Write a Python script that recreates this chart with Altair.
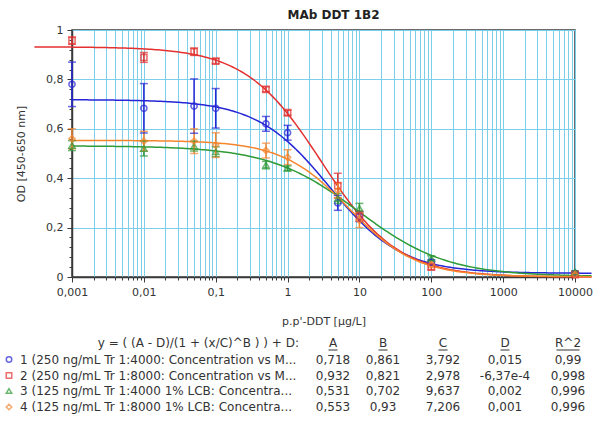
import altair as alt
import numpy as np
import pandas as pd

FONT = "DejaVu Sans"
TEXT = "#333333"
GRID = "#7ccfea"

# p,p'-DDT concentrations (µg/L)
conc = [0.001, 0.01, 0.05, 0.1, 0.5, 1, 5, 10, 100, 10000]

series_names = [
    "1 (250 ng/mL Tr 1:4000: Concentration vs M...",
    "2 (250 ng/mL Tr 1:8000: Concentration vs M...",
    "3 (125 ng/mL Tr 1:4000 1% LCB: Concentra...",
    "4 (125 ng/mL Tr 1:8000 1% LCB: Concentra...",
]
colors = ["#2626d6", "#e4312f", "#2f9a36", "#f7852d"]
shapes = ["circle", "square", "triangle-up", "diamond"]

# mean OD per concentration
od_1 = [0.78, 0.683, 0.692, 0.683, 0.62, 0.584, 0.30, 0.245, 0.06, 0.015]
od_2 = [0.957, 0.889, 0.912, 0.874, 0.76, 0.665, 0.37, 0.245, 0.04, 0.01]
od_3 = [0.532, 0.52, 0.53, 0.507, 0.453, 0.44, 0.318, 0.278, 0.076, 0.02]
od_4 = [0.56, 0.55, 0.55, 0.534, 0.512, 0.485, 0.35, 0.23, 0.05, 0.01]

# error bar half-widths
err_1 = [0.09, 0.10, 0.11, 0.08, 0.03, 0.03, 0.03, 0.02, 0.01, 0.005]
err_2 = [0.015, 0.02, 0.015, 0.01, 0.01, 0.01, 0.05, 0.02, 0.01, 0.005]
err_3 = [0.02, 0.03, 0.02, 0.02, 0.015, 0.01, 0.02, 0.02, 0.01, 0.005]
err_4 = [0.04, 0.04, 0.05, 0.05, 0.03, 0.03, 0.03, 0.03, 0.01, 0.005]

# 4-parameter logistic fits: y = ((A - D) / (1 + (x/C)^B)) + D
fit_A = [0.718, 0.932, 0.531, 0.553]
fit_B = [0.861, 0.821, 0.702, 0.93]
fit_C = [3.792, 2.978, 9.637, 7.206]
fit_D = [0.015, -6.37e-4, 0.002, 0.001]
fit_R2 = [0.99, 0.998, 0.996, 0.996]
curve_start = [0.001, 0.0003, 0.001, 0.001]
curve_end = 17000

x_ticks = [m * 10.0 ** k for k in range(-3, 4) for m in range(1, 10)] + [10000]
y_ticks = [round(i * 0.04, 2) for i in range(26)]

od_all = [od_1, od_2, od_3, od_4]
err_all = [err_1, err_2, err_3, err_4]

# ---- long-form tables for the library ----
pts = pd.DataFrame(
    [
        {"x": c, "y": v, "lo": v - e, "hi": v + e, "s": series_names[i]}
        for i in range(4)
        for c, v, e in zip(conc, od_all[i], err_all[i])
    ]
)

curve_rows = []
for i in range(4):
    xs = np.logspace(np.log10(curve_start[i]), np.log10(curve_end), 240)
    ys = (fit_A[i] - fit_D[i]) / (1 + (xs / fit_C[i]) ** fit_B[i]) + fit_D[i]
    for xv, yv in zip(xs, ys):
        curve_rows.append({"x": xv, "y": yv, "s": series_names[i]})
curves = pd.DataFrame(curve_rows)

major_x = "abs(log(datum.value)/LN10 - round(log(datum.value)/LN10)) < 1e-6"
major_y = "abs(datum.value*5 - round(datum.value*5)) < 1e-6"

xscale = alt.Scale(type="log", domain=[0.001, 10000], nice=False)
yscale = alt.Scale(domain=[0, 1], nice=False, zero=False)
cscale = alt.Scale(domain=series_names, range=colors)
sscale = alt.Scale(domain=series_names, range=shapes)

x_axis = alt.Axis(
    values=x_ticks,
    labelExpr=f"({major_x}) ? replace(format(datum.value, '~g'), '.', ',') : ''",
    title="p.p'-DDT [µg/L]",
    grid=True,
    gridColor=GRID,
    gridWidth=1,
    tickSize={"condition": {"test": major_x, "value": 5}, "value": 3},
    labelOverlap=False,
    labelFlush=False,
    labelPadding=4,
    titlePadding=18,
)
y_axis = alt.Axis(
    values=y_ticks,
    labelExpr=f"({major_y}) ? replace(format(datum.value, '~g'), '.', ',') : ''",
    title="OD [450-650 nm]",
    grid=True,
    gridColor=GRID,
    gridWidth=1,
    gridOpacity={"condition": {"test": major_y, "value": 1}, "value": 0},
    tickSize={"condition": {"test": major_y, "value": 5}, "value": 3},
    labelOverlap=False,
    labelPadding=4,
    titlePadding=19,
)


def X(field):
    return alt.X(f"{field}:Q", scale=xscale, axis=x_axis)


def Y(field):
    return alt.Y(f"{field}:Q", scale=yscale, axis=y_axis)


color_enc = alt.Color("s:N", scale=cscale, legend=None)

curve_layer = (
    alt.Chart(curves)
    .mark_line(strokeWidth=1.5)
    .encode(x=X("x"), y=Y("y"), color=color_enc, detail="s:N", order="x:Q")
)

err_rule = (
    alt.Chart(pts)
    .mark_rule(strokeWidth=1.5)
    .encode(x=X("x"), y=Y("lo"), y2="hi:Q", color=color_enc)
)
cap_lo = (
    alt.Chart(pts)
    .mark_tick(orient="horizontal", size=8, thickness=1.5)
    .encode(x=X("x"), y=Y("lo"), color=color_enc)
)
cap_hi = (
    alt.Chart(pts)
    .mark_tick(orient="horizontal", size=8, thickness=1.5)
    .encode(x=X("x"), y=Y("hi"), color=color_enc)
)

point_layer = (
    alt.Chart(pts)
    .mark_point(filled=False, size=38, strokeWidth=1.6)
    .encode(
        x=X("x"),
        y=Y("y"),
        color=color_enc,
        shape=alt.Shape("s:N", scale=sscale, legend=None),
    )
)

# ---- fit parameter table below the plot ----
def fmt(v):
    if v != 0 and abs(v) < 0.001:
        mant, ex = f"{v:.2e}".split("e")
        return f"{mant}e{int(ex)}".replace(".", ",")
    return f"{v:g}".replace(".", ",")

one = pd.DataFrame({"k": [0]})
table_layers = []
header_y = 313
row_y = [329.5, 345.5, 361, 377]
col_x = [261, 311, 371, 433, 496]
col_head = ["A", "B", "C", "D", "R^2"]
col_width = [9, 9, 9, 9, 23]


def text_at(x, y, s, align="center"):
    return (
        alt.Chart(one)
        .mark_text(align=align, baseline="middle", font=FONT, fontSize=12, color=TEXT)
        .encode(x=alt.value(x), y=alt.value(y), text=alt.value(s))
    )


table_layers.append(text_at(227, header_y, "y = ( (A - D)/(1 + (x/C)^B ) ) + D:", "right"))
for cx, h, w in zip(col_x, col_head, col_width):
    table_layers.append(text_at(cx, header_y, h))
    table_layers.append(
        alt.Chart(one)
        .mark_rule(color=TEXT, strokeWidth=1)
        .encode(x=alt.value(cx - w / 2), x2=alt.value(cx + w / 2), y=alt.value(header_y + 7))
    )

for i in range(4):
    ry = row_y[i]
    table_layers.append(
        alt.Chart(one)
        .mark_point(filled=False, size=30, strokeWidth=1.5)
        .encode(
            x=alt.value(-63),
            y=alt.value(ry),
            shape=alt.value(shapes[i]),
            color=alt.value(colors[i]),
        )
    )
    table_layers.append(text_at(-52, ry, series_names[i], "left"))
    vals = [fit_A[i], fit_B[i], fit_C[i], fit_D[i], fit_R2[i]]
    for cx, v in zip(col_x, vals):
        table_layers.append(text_at(cx, ry, fmt(v)))

chart = (
    alt.layer(curve_layer, err_rule, cap_lo, cap_hi, point_layer, *table_layers)
    .properties(
        width=503,
        height=247,
        title=alt.TitleParams(
            "MAb DDT 1B2",
            font=FONT,
            fontSize=12,
            fontWeight="bold",
            color="#222222",
            anchor="middle",
            offset=2,
            dx=10,
        ),
        autosize=alt.AutoSizeParams(type="none"),
        padding={"left": 72, "top": 30, "right": 18, "bottom": 160},
    )
    .configure_view(stroke="#3a3a3a", strokeWidth=1.5)
    .configure_axis(
        labelFont=FONT,
        titleFont=FONT,
        labelFontSize=11,
        titleFontSize=11,
        titleFontWeight="normal",
        labelColor=TEXT,
        titleColor=TEXT,
        domainColor="#3a3a3a",
        domainWidth=1.5,
        tickColor="#3a3a3a",
    )
)

chart.save("out.html", embed_options={"renderer": "svg", "actions": False})
